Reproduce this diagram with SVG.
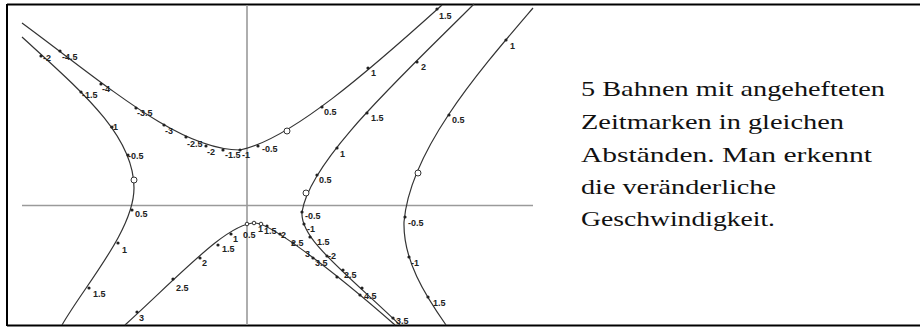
<svg xmlns="http://www.w3.org/2000/svg" width="920" height="327" viewBox="0 0 920 327">
<style>
.frame{stroke:#000;stroke-width:2;fill:none}
.axis{stroke:#9a9a9a;stroke-width:1.6;fill:none}
.path{stroke:#333;stroke-width:1.2;fill:none}
.dot{fill:#222}
.ring{fill:#fff;stroke:#333;stroke-width:1}
.lbl{font-family:"Liberation Sans",Arial,sans-serif;font-size:9px;fill:#222;font-weight:bold}
.txt{font-family:"Liberation Serif","Times New Roman",serif;font-size:21px;fill:#111}
</style>
<rect width="920" height="327" fill="#fff"/>
<g id="frame">
<line class="frame" x1="7" y1="4.5" x2="920" y2="4.5"/>
<line class="frame" x1="7" y1="325.5" x2="920" y2="325.5"/>
<line class="frame" x1="7" y1="4" x2="7" y2="326"/>
</g>
<g id="axes">
<line class="axis" x1="22" y1="205.5" x2="533" y2="205.5"/>
<line class="axis" x1="247" y1="5" x2="247" y2="325"/>
</g>
<g id="curveA">
<path class="path" d="M22,23 C110,88 180,150 240,150 C290,140 370,70 442,5"/>
<g class="dot">
<circle cx="60" cy="51" r="1.6"/><circle cx="101" cy="84" r="1.6"/><circle cx="136" cy="108" r="1.6"/><circle cx="164" cy="125" r="1.6"/><circle cx="186" cy="137" r="1.6"/><circle cx="206" cy="146" r="1.6"/><circle cx="223" cy="150" r="1.6"/><circle cx="240" cy="150" r="1.6"/><circle cx="258" cy="146" r="1.6"/><circle cx="322" cy="107" r="1.6"/><circle cx="368" cy="68" r="1.6"/><circle cx="437" cy="9" r="1.6"/>
</g>
<circle class="ring" cx="287" cy="131" r="3"/>
<g class="lbl">
<text x="62" y="60">-4.5</text><text x="102" y="92">-4</text><text x="137" y="116">-3.5</text><text x="165" y="134">-3</text><text x="187" y="147">-2.5</text><text x="207" y="155">-2</text><text x="225" y="158">-1.5</text><text x="242" y="158">-1</text><text x="262" y="152">-0.5</text><text x="324" y="115">0.5</text><text x="371" y="76">1</text><text x="439" y="19">1.5</text>
</g>
</g>
<g id="curveB">
<path class="path" d="M22,37 C80,90 134,135 134,188 C134,230 85,285 62,325"/>
<g class="dot">
<circle cx="41" cy="56" r="1.6"/><circle cx="81" cy="92" r="1.6"/><circle cx="112" cy="127" r="1.6"/><circle cx="128" cy="155" r="1.6"/><circle cx="132" cy="210" r="1.6"/><circle cx="118" cy="243" r="1.6"/><circle cx="89" cy="288" r="1.6"/>
</g>
<circle class="ring" cx="134" cy="180" r="3"/>
<g class="lbl">
<text x="43" y="61">-2</text><text x="82" y="98">-1.5</text><text x="110" y="130">-1</text><text x="128" y="159">-0.5</text><text x="135" y="217">0.5</text><text x="122" y="253">1</text><text x="93" y="297">1.5</text>
</g>
</g>
<g id="curveC">
<path class="path" d="M125,325 C185,270 228,223 255,223 C270,223 330,268 395,325"/>
<g class="dot">
<circle cx="137" cy="312" r="1.6"/><circle cx="173" cy="279" r="1.6"/><circle cx="200" cy="258" r="1.6"/><circle cx="218" cy="245" r="1.6"/><circle cx="231" cy="234" r="1.6"/><circle cx="267" cy="226" r="1.6"/><circle cx="280" cy="234" r="1.6"/><circle cx="293" cy="243" r="1.6"/><circle cx="313" cy="258" r="1.6"/><circle cx="337" cy="277" r="1.6"/><circle cx="360" cy="295" r="1.6"/>
</g>
<g class="ring">
<circle cx="247" cy="224" r="1.8"/><circle cx="254" cy="223" r="1.8"/><circle cx="261" cy="224" r="1.8"/>
</g>
<g class="lbl">
<text x="139" y="321">3</text><text x="176" y="291">2.5</text><text x="202" y="266">2</text><text x="222" y="252">1.5</text><text x="233" y="242">1</text><text x="243" y="238">0.5</text><text x="258" y="232">1</text><text x="264" y="234">1.5</text><text x="281" y="238">2</text><text x="291" y="246">2.5</text><text x="305" y="257">3</text><text x="315" y="266">3.5</text><text x="364" y="299">4.5</text>
</g>
</g>
<g id="curveD">
<path class="path" d="M474,4 C400,78 310,160 302,212 C300,238 340,268 400,325"/>
<g class="dot">
<circle cx="417" cy="62" r="1.6"/><circle cx="367" cy="113" r="1.6"/><circle cx="337" cy="148" r="1.6"/><circle cx="317" cy="175" r="1.6"/><circle cx="302" cy="212" r="1.6"/><circle cx="304" cy="224" r="1.6"/><circle cx="310" cy="237" r="1.6"/><circle cx="327" cy="256" r="1.6"/><circle cx="343" cy="270" r="1.6"/><circle cx="362" cy="288" r="1.6"/><circle cx="393" cy="318" r="1.6"/>
</g>
<circle class="ring" cx="306" cy="193" r="3"/>
<g class="lbl">
<text x="421" y="70">2</text><text x="371" y="121">1.5</text><text x="340" y="157">1</text><text x="319" y="183">0.5</text><text x="305" y="219">-0.5</text><text x="307" y="232">-1</text><text x="317" y="245">1.5</text><text x="328" y="259">-2</text><text x="344" y="278">2.5</text><text x="396" y="324">3.5</text>
</g>
</g>
<g id="curveE">
<path class="path" d="M533,8 C480,70 410,150 404,222 C403,260 425,295 446,325"/>
<g class="dot">
<circle cx="506" cy="40" r="1.6"/><circle cx="449" cy="115" r="1.6"/><circle cx="405" cy="217" r="1.6"/><circle cx="409" cy="257" r="1.6"/><circle cx="428" cy="297" r="1.6"/>
</g>
<circle class="ring" cx="418" cy="173" r="3"/>
<g class="lbl">
<text x="510" y="49">1</text><text x="452" y="123">0.5</text><text x="408" y="226">-0.5</text><text x="411" y="266">-1</text><text x="433" y="306">1.5</text>
</g>
</g>
<g id="caption" class="txt">
<text x="581" y="96" textLength="304" lengthAdjust="spacingAndGlyphs">5 Bahnen mit angehefteten</text>
<text x="581" y="129" textLength="263" lengthAdjust="spacingAndGlyphs">Zeitmarken in gleichen</text>
<text x="581" y="161.5" textLength="291" lengthAdjust="spacingAndGlyphs">Abständen. Man erkennt</text>
<text x="581" y="194" textLength="195" lengthAdjust="spacingAndGlyphs">die veränderliche</text>
<text x="581" y="226" textLength="194" lengthAdjust="spacingAndGlyphs">Geschwindigkeit.</text>
</g>
</svg>
